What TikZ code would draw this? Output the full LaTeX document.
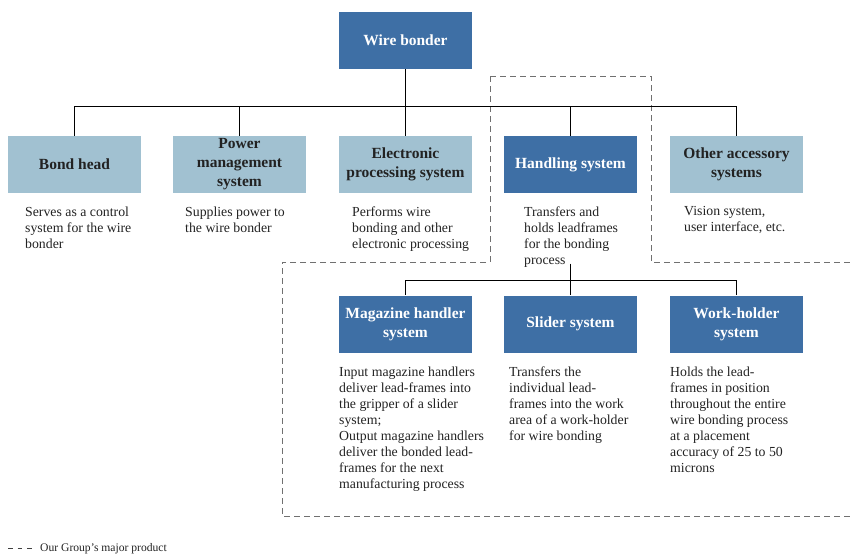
\documentclass[tikz,border=0pt]{standalone}
\usepackage{fontspec}
\setmainfont{Liberation Serif}
\definecolor{darkbox}{HTML}{3E6FA5}
\definecolor{lightbox}{HTML}{A1C1D1}
\definecolor{headtext}{HTML}{222222}
\definecolor{framegray}{HTML}{707070}
\begin{document}
\begin{tikzpicture}[x=1pt,y=-1pt,
    unit/.style={minimum width=133pt,minimum height=57pt,inner sep=0pt,align=center,
      font=\fontsize{15.5}{19}\selectfont\bfseries},
    desc/.style={anchor=north west,inner sep=0pt,align=left,
      font=\fontsize{13.8}{16}\selectfont,text=headtext},
    link/.style={draw=black,line width=0.9pt},
    frame/.style={draw=framegray,line width=1pt,dash pattern=on 6pt off 4pt}]
    \useasboundingbox (0,0) rectangle (852,554);
    % our product frame
    \draw[frame] (490,76) -- (651,76) -- (651,262) -- (853,262);
    \draw[frame] (490,76) -- (490,262) -- (282,262) -- (282,516) -- (853,516);
    \begin{scope}[every node/.style={unit,fill=darkbox,text=white}]
      \node (wb) at (405.5,40.5) {Wire bonder};
      \node (hs) at (570.5,164.5) {Handling system};
      \node (mag) at (405.5,324) {Magazine handler\\system};
      \node (sl) at (570.5,324) {Slider system};
      \node (wh) at (736.5,324) {Work-holder\\system};
    \end{scope}
    \begin{scope}[every node/.style={unit,fill=lightbox,text=headtext}]
      \node (bh) at (74.5,164.5) {Bond head};
      \node (pm) at (239.5,164.5) {Power\\management\\system};
      \node (ep) at (405.5,164.5) {Electronic\\processing system};
      \node (oa) at (736.5,164.5) {Other accessory\\systems};
    \end{scope}
    \begin{scope}[every node/.style={desc}]
      \node (bhdesc) at (25,206.5) {Serves as a control\\system for the wire\\bonder};
      \node (pmdesc) at (185,206.5) {Supplies power to\\the wire bonder};
      \node (epdesc) at (352,206.5) {Performs wire\\bonding and other\\electronic processing};
      \node (hsdesc) at (524,206.5) {Transfers and\\holds leadframes\\for the bonding\\process};
      \node (oadesc) at (684,206.5) {Vision system,\\user interface, etc.};
      \node (magdesc) at (339,366.5) {Input magazine handlers\\deliver lead-frames into\\the gripper of a slider\\system;\\Output magazine handlers\\deliver the bonded lead-\\frames for the next\\manufacturing process};
      \node (sldesc) at (509,366.5) {Transfers the\\individual lead-\\frames into the work\\area of a work-holder\\for wire bonding};
      \node (whdesc) at (670,366.5) {Holds the lead-\\frames in position\\throughout the entire\\wire bonding process\\at a placement\\accuracy of 25 to 50\\microns};
    \end{scope}
    \coordinate (bus) at (405.5,106);
    \coordinate (sub) at (570.5,280);
    \draw[link] (wb.south) -- (bus);
    \draw[link] ([yshift=4pt]hs.south |- hsdesc.south) -- (sub);
    \begin{scope}[every edge/.style={link,to path={-| (\tikztotarget)}}]
      \path (bus) edge (bh.north);
      \path (bus) edge (pm.north);
      \path (bus) edge (ep.north);
      \path (bus) edge (hs.north);
      \path (bus) edge (oa.north);
      \path (sub) edge (mag.north);
      \path (sub) edge (sl.north);
      \path (sub) edge (wh.north);
    \end{scope}
    % legend
    \coordinate (legl) at (8,548);
    \coordinate (legr) at (33,548);
    \draw[frame,draw=black!75,dash pattern=on 4.5pt off 5pt] (legl) -- (legr);
    \node[anchor=base west,inner sep=0pt,font=\fontsize{11.6}{13}\selectfont,text=headtext]
      (leg) at (40,551.5) {Our Group’s major product};
\end{tikzpicture}
\end{document}
